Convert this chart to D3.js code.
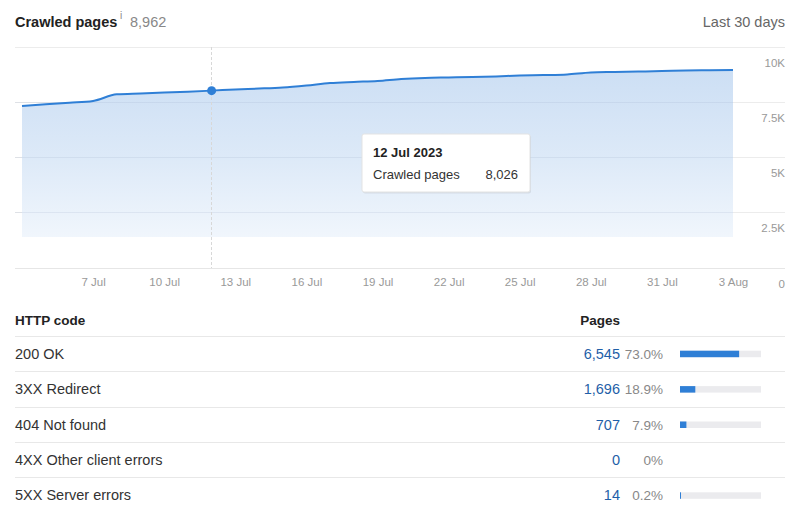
<!DOCTYPE html>
<html><head><meta charset="utf-8">
<script src="https://cdn.jsdelivr.net/npm/d3@7"></script>
<style>
body{margin:0;background:#fff;font-family:"Liberation Sans",Arial,Helvetica,sans-serif;}
svg text{font-family:"Liberation Sans",Arial,Helvetica,sans-serif;}
</style></head>
<body>
<svg id="c" width="800" height="519"></svg>
<script>
// ---- data ----
const dates = ["2023-07-04","2023-07-05","2023-07-06","2023-07-07","2023-07-08","2023-07-09","2023-07-10","2023-07-11","2023-07-12","2023-07-13","2023-07-14","2023-07-15","2023-07-16","2023-07-17","2023-07-18","2023-07-19","2023-07-20","2023-07-21","2023-07-22","2023-07-23","2023-07-24","2023-07-25","2023-07-26","2023-07-27","2023-07-28","2023-07-29","2023-07-30","2023-07-31","2023-08-01","2023-08-02","2023-08-03"];
const crawled = [7330,7410,7480,7560,7860,7900,7940,7980,8026,8080,8120,8170,8260,8370,8420,8460,8550,8600,8620,8640,8670,8710,8730,8760,8850,8870,8890,8910,8940,8950,8962];
const yTicks = [0,2500,5000,7500,10000];
const yTickLabels = ["0","2.5K","5K","7.5K","10K"];
const xTickDates = ["2023-07-07","2023-07-10","2023-07-13","2023-07-16","2023-07-19","2023-07-22","2023-07-25","2023-07-28","2023-07-31","2023-08-03"];
const hoverDate = "2023-07-12";
const codes = ["200 OK","3XX Redirect","404 Not found","4XX Other client errors","5XX Server errors"];
const pages = [6545,1696,707,0,14];
const shares = [73.0,18.9,7.9,0,0.2];
const shareLabels = ["73.0%","18.9%","7.9%","0%","0.2%"];
const totalPages = 8962;

// ---- setup ----
const svg = d3.select("#c");
const parse = d3.timeParse("%Y-%m-%d");
const data = dates.map((d,i)=>({date:parse(d), v:crawled[i]}));

// header
svg.append("text").attr("x",15).attr("y",27).attr("font-size",14.5).attr("font-weight","bold").attr("fill","#222").text("Crawled pages");
svg.append("text").attr("x",120).attr("y",19).attr("font-size",10).attr("fill","#888").text("i");
svg.append("text").attr("x",130).attr("y",27).attr("font-size",14.5).attr("fill","#888").text(d3.format(",")(totalPages));
svg.append("text").attr("x",785).attr("y",27).attr("font-size",14.5).attr("fill","#666").attr("text-anchor","end").text("Last 30 days");

// scales
const x = d3.scaleTime().domain([parse("2023-07-04"), parse("2023-08-03")]).range([22,733]);
const y = d3.scaleLinear().domain([0,10000]).range([268,47]);

// gridlines
const grid = svg.append("g");
grid.selectAll("line").data(yTicks).join("line")
  .attr("x1",15).attr("x2",785).attr("y1",d=>y(d)).attr("y2",d=>y(d))
  .attr("stroke",d=>d===0?"#e6e6e6":"#ececec").attr("stroke-width",1).attr("shape-rendering","crispEdges");

// gradient
const defs = svg.append("defs");
const g = defs.append("linearGradient").attr("id","fillg").attr("gradientUnits","userSpaceOnUse")
  .attr("x1",0).attr("x2",0).attr("y1",y(10000)).attr("y2",y(0));
g.append("stop").attr("offset",0).attr("stop-color","#c2d8f2");
g.append("stop").attr("offset",0.5).attr("stop-color","#d9e7f7");
g.append("stop").attr("offset",0.86).attr("stop-color","#eff5fc");
g.append("stop").attr("offset",0.86).attr("stop-color","#ffffff").attr("stop-opacity",0);
g.append("stop").attr("offset",1).attr("stop-color","#ffffff").attr("stop-opacity",0);

const area = d3.area().x(d=>x(d.date)).y0(y(0)).y1(d=>y(d.v)).curve(d3.curveMonotoneX);
const line = d3.line().x(d=>x(d.date)).y(d=>y(d.v)).curve(d3.curveMonotoneX);
svg.append("path").datum(data).attr("d",area).attr("fill","url(#fillg)").attr("opacity",0.9);

// gridlines faintly over fill
svg.append("g").selectAll("line").data(yTicks.filter(d=>d>0 && d<10000)).join("line")
  .attr("x1",15).attr("x2",733).attr("y1",d=>y(d)).attr("y2",d=>y(d))
  .attr("stroke","#9fb4cc").attr("stroke-opacity",0.18).attr("stroke-width",1).attr("shape-rendering","crispEdges");

svg.append("path").datum(data).attr("d",line).attr("fill","none").attr("stroke","#2f7fd6").attr("stroke-width",2);

// y axis labels
const yAxis = d3.axisRight(y).tickValues(yTicks).tickSize(0).tickFormat(d=>yTickLabels[yTicks.indexOf(d)]);
const ya = svg.append("g").attr("transform","translate(785,0)").call(yAxis);
ya.select(".domain").remove();
ya.selectAll("text").attr("text-anchor","end").attr("x",0).attr("dy",0).attr("y",19).attr("font-size",11.5).attr("fill","#999")
  .attr("font-family","Liberation Sans, Arial, sans-serif");

// x axis labels
const xAxis = d3.axisBottom(x).tickValues(xTickDates.map(parse)).tickSize(0).tickFormat(d3.timeFormat("%-d %b"));
const xa = svg.append("g").attr("transform","translate(0,268)").call(xAxis);
xa.select(".domain").remove();
xa.selectAll("text").attr("y",10).attr("dy","0.71em").attr("font-size",11.5).attr("fill","#999")
  .attr("font-family","Liberation Sans, Arial, sans-serif");

// hover crosshair
const hd = parse(hoverDate);
const hv = crawled[dates.indexOf(hoverDate)];
svg.append("line").attr("x1",x(hd)).attr("x2",x(hd)).attr("y1",47).attr("y2",268)
  .attr("stroke","#d8d8d8").attr("stroke-width",1).attr("stroke-dasharray","3,2").attr("shape-rendering","crispEdges");
svg.append("circle").attr("cx",x(hd)).attr("cy",y(hv)).attr("r",4.5).attr("fill","#2f7fd6");

// tooltip
const tt = svg.append("g").attr("transform","translate(362,134)");
tt.append("rect").attr("x",1).attr("y",1.5).attr("width",168).attr("height",58).attr("rx",2).attr("fill","#000").attr("opacity",0.08);
tt.append("rect").attr("width",168).attr("height",58).attr("rx",2).attr("fill","#fff").attr("stroke","#e3e3e3");
tt.append("text").attr("x",11).attr("y",23).attr("font-size",13).attr("font-weight","bold").attr("fill","#222").text(d3.timeFormat("%-d %b %Y")(hd));
tt.append("text").attr("x",11).attr("y",45).attr("font-size",13).attr("fill","#333").text("Crawled pages");
tt.append("text").attr("x",156).attr("y",45).attr("font-size",13).attr("fill","#333").attr("text-anchor","end").text(d3.format(",")(hv));

// table
const tbl = svg.append("g");
tbl.append("text").attr("x",15).attr("y",325).attr("font-size",13.5).attr("font-weight","bold").attr("fill","#222").text("HTTP code");
tbl.append("text").attr("x",620).attr("y",325).attr("font-size",13.5).attr("font-weight","bold").attr("fill","#222").attr("text-anchor","end").text("Pages");

const rowY = d3.scaleBand().domain(codes).range([336,513]).padding(0);
const sepY = [336,371.5,407,442,477];
tbl.selectAll("line.sep").data(sepY).join("line").attr("class","sep")
  .attr("x1",15).attr("x2",785).attr("y1",d=>d).attr("y2",d=>d)
  .attr("stroke","#e8e8e8").attr("shape-rendering","crispEdges");

const barX = d3.scaleLinear().domain([0,100]).range([680,761]);
const rows = tbl.selectAll("g.row").data(codes).join("g").attr("class","row")
  .attr("transform",d=>`translate(0,${rowY(d)+rowY.bandwidth()/2})`);
rows.append("text").attr("x",15).attr("y",5).attr("font-size",14.5).attr("fill","#333").text(d=>d);
rows.append("text").attr("x",620).attr("y",5).attr("font-size",14.5).attr("fill","#1f5fa8").attr("text-anchor","end").text((d,i)=>d3.format(",")(pages[i]));
rows.append("text").attr("x",663).attr("y",5).attr("font-size",13.5).attr("fill","#888").attr("text-anchor","end").text((d,i)=>shareLabels[i]);
rows.filter((d,i)=>pages[i]>0).append("rect").attr("x",barX(0)).attr("y",-3).attr("width",barX(100)-barX(0)).attr("height",6.5).attr("fill","#ebebee");
rows.filter((d,i)=>pages[i]>0).append("rect").attr("x",barX(0)).attr("y",-3)
  .attr("width",d=>Math.max(1,barX(shares[codes.indexOf(d)])-barX(0))).attr("height",6.5).attr("fill","#2f7fd6");
</script>
</body></html>
